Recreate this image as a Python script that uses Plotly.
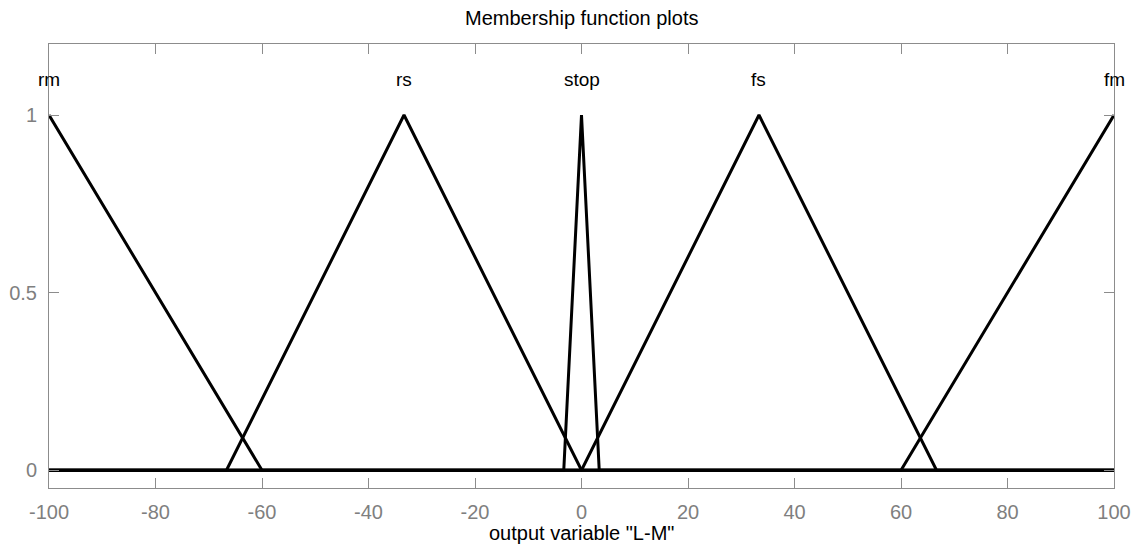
import numpy as np
import plotly.graph_objects as go

# Membership functions (triangular: a, b, c) of output variable "L-M"
mf_names = ["rm", "rs", "stop", "fs", "fm"]
mf_a = [-140.0, -66.67, -3.33, 0.0, 60.0]
mf_b = [-100.0, -33.33, 0.0, 33.33, 100.0]
mf_c = [-60.0, 0.0, 3.33, 66.67, 140.0]

x_range = [-100, 100]
x_ticks = [-100, -80, -60, -40, -20, 0, 20, 40, 60, 80, 100]
x_ticklabels = ["-100", "-80", "-60", "-40", "-20", "0", "20", "40", "60", "80", "100"]
y_ticks = [0, 0.5, 1]
y_ticklabels = ["0", "0.5", "1"]

FONT = "Liberation Sans, Arial, Helvetica"


def trimf(x, a, b, c):
    x = np.asarray(x, dtype=float)
    left = (x - a) / (b - a) if b != a else np.ones_like(x)
    right = (c - x) / (c - b) if c != b else np.ones_like(x)
    return np.clip(np.minimum(left, right), 0, 1)


fig = go.Figure()
for name, a, b, c in zip(mf_names, mf_a, mf_b, mf_c):
    xs = sorted(set([x_range[0], x_range[1]] + [v for v in (a, b, c) if x_range[0] <= v <= x_range[1]]))
    ys = trimf(xs, a, b, c)
    fig.add_trace(go.Scatter(x=xs, y=ys, mode="lines", name=name,
                             line=dict(color="black", width=3),
                             showlegend=False, hoverinfo="skip", cliponaxis=False))
    fig.add_annotation(x=b, y=1.1, text=name, showarrow=False,
                       xanchor="center", yanchor="middle",
                       font=dict(size=19, color="black", family=FONT))

fig.add_annotation(text="Membership function plots", xref="paper", yref="paper",
                   x=0.5, y=1, yshift=26, showarrow=False, xanchor="center", yanchor="middle",
                   font=dict(size=20, color="black", family=FONT))
fig.add_annotation(text='output variable "L-M"', xref="paper", yref="paper",
                   x=0.5, y=0, yshift=-45, showarrow=False, xanchor="center", yanchor="middle",
                   font=dict(size=20, color="black", family=FONT))

axis_common = dict(showgrid=False, zeroline=False, showline=True, linecolor="#8c8c8c",
                   linewidth=1, mirror="allticks", ticks="inside", ticklen=10,
                   tickcolor="#8c8c8c", tickwidth=1, automargin=False,
                   tickfont=dict(size=20, color="#7f7f7f", family=FONT))

fig.update_xaxes(range=x_range, tickvals=x_ticks, ticktext=x_ticklabels,
                 ticklabelstandoff=6, **axis_common)
fig.update_yaxes(range=[-0.05, 1.2], tickvals=y_ticks, ticktext=y_ticklabels,
                 ticklabelstandoff=7, **axis_common)

fig.update_layout(width=1134, height=545, margin=dict(l=49, r=20, t=44, b=57, autoexpand=False),
                  plot_bgcolor="white", paper_bgcolor="white")

fig.write_html("out.html", config={"displayModeBar": False},
               post_script="document.body.style.margin='0';document.body.style.overflow='hidden';")
